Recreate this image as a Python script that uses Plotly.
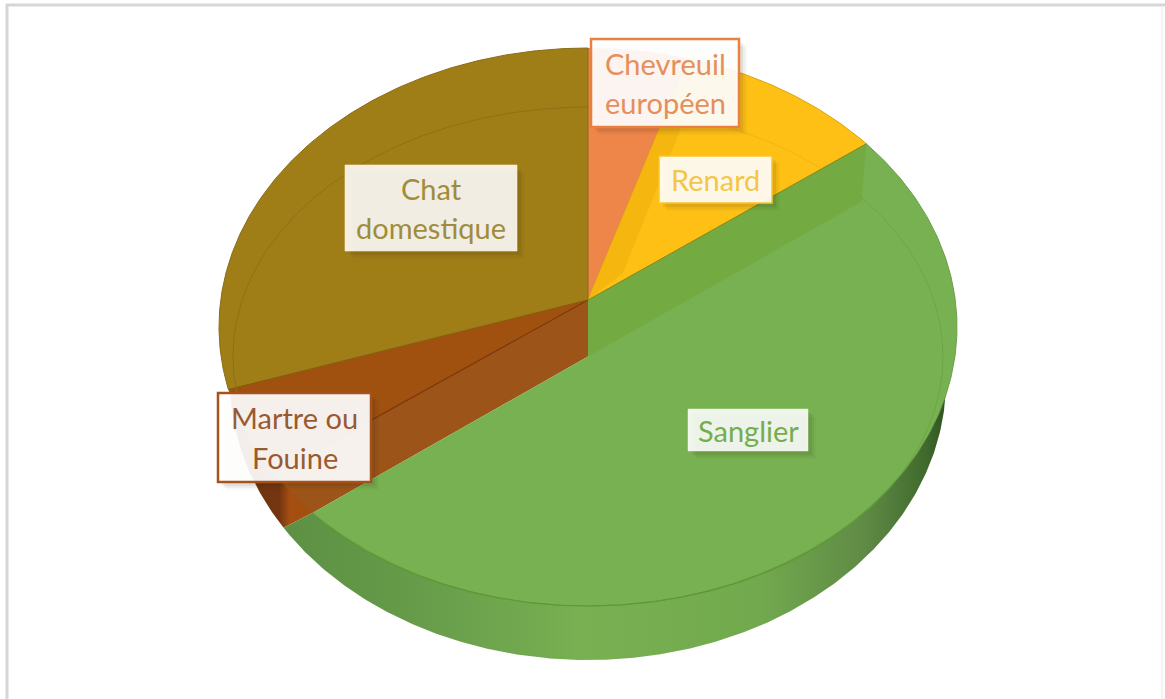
import numpy as np
import plotly.graph_objects as go

# ---- data (share of the pie, clockwise from 12 o'clock) ----
categories = ["Chevreuil européen", "Renard", "Sanglier", "Martre ou Fouine", "Chat domestique"]
values = [4.4, 9.2, 49.8, 8.0, 28.6]
colors = ["#ee8549", "#ffc015", "#78b151", "#a0500f", "#a07e17"]
text_colors = ["#e58f5c", "#f3c648", "#74ad4e", "#9a5a30", "#a08c3c"]
label_lines = [["Chevreuil", "européen"], ["Renard"], ["Sanglier"], ["Martre ou", "Fouine"], ["Chat", "domestique"]]

# ---- view geometry of the drawing (pixels) ----
W, H = 1165, 699
CX, TOP_CY, TOP_RX, TOP_RY = 588, 327, 369, 279
APEX_Y, FRONT_Y = 300, 356.5
BASE_CY, BASE_RX, BASE_RY = 381, 358, 279
IN_RX, IN_RY = 355, 249.5

boxes = [(591, 39, 739, 127), (659, 156, 772, 203), (688, 409, 808, 451), (218, 393, 371, 482), (345, 165, 517, 251)]
box_fill = ["rgba(255,255,255,0.92)", "rgba(255,255,255,0.9)", "rgba(255,255,255,0.88)", "rgba(255,255,255,0.92)", "rgba(255,255,255,0.88)"]
box_line = ["#e9803f", "#fbc42a", "rgba(255,255,255,0.4)", "#a5521c", "rgba(255,240,200,0.6)"]
box_w = [2.5, 1.5, 1, 2.5, 1]


def rim(t):
    t = np.radians(t)
    return CX + TOP_RX * np.sin(t), TOP_CY - TOP_RY * np.cos(t)


def base(t):
    t = np.radians(t)
    return CX + BASE_RX * np.sin(t), BASE_CY - BASE_RY * np.cos(t)


def inner(t):
    t = np.radians(t)
    return CX + IN_RX * np.sin(t), FRONT_Y - IN_RY * np.cos(t)


def sweep(f, a, b):
    ts = np.linspace(a, b, max(2, int(abs(b - a) * 2) + 1))
    x, y = f(ts)
    return list(x), list(y)


bounds = np.concatenate([[0], np.cumsum(values) / np.sum(values) * 360])
a = {c: (bounds[i], bounds[i + 1]) for i, c in enumerate(categories)}
t_sg0, t_sg1 = a["Sanglier"]
t_rn0, t_rn1 = a["Renard"]
t_mf0, t_mf1 = a["Martre ou Fouine"]
t_ch0, t_ch1 = a["Chat domestique"]
SHIFT = 10

fig = go.Figure()


def poly(x, y, color, name, line=None):
    fig.add_trace(go.Scatter(x=x, y=y, mode="lines", fill="toself", fillcolor=color, name=name,
                             line=dict(color=line or "rgba(0,0,0,0)", width=1 if line else 0),
                             hoverinfo="skip", showlegend=False))


def stroke(x, y, color, width=1):
    fig.add_trace(go.Scatter(x=x, y=y, mode="lines", line=dict(color=color, width=width),
                             hoverinfo="skip", showlegend=False))


# side walls
x, y = sweep(base, t_mf0 + SHIFT, 285)
rx_, ry_ = rim(t_mf0)
fig.add_trace(go.Scatter(x=x + [float(rx_)], y=y + [float(ry_)], mode="lines", fill="toself", name="Martre ou Fouine",
                         line=dict(width=0, color="rgba(0,0,0,0)"), hoverinfo="skip", showlegend=False,
                         fillgradient=dict(type="horizontal", colorscale=[[0, "#6b3210"], [0.6, "#743610"], [0.72, "#a44f10"], [1, "#a44f10"]])))
x, y = sweep(base, 80, t_sg1 + SHIFT)
rx_, ry_ = rim(t_sg1)
fig.add_trace(go.Scatter(x=x + [float(rx_)], y=y + [float(ry_)], mode="lines", fill="toself", name="Sanglier",
                         line=dict(width=0, color="rgba(0,0,0,0)"), hoverinfo="skip", showlegend=False,
                         fillgradient=dict(type="horizontal", colorscale=[[0, "#5d9044"], [0.18, "#659a49"], [0.45, "#78b052"], [0.72, "#72a94e"], [0.88, "#5f8a45"], [0.97, "#3f6a2c"], [1, "#2f5420"]])))

# top surfaces
EDGE = {"Chat domestique": "#8a6c14", "Chevreuil européen": None, "Renard": "#d9a20f"}
for cat, col in zip(categories, colors):
    if cat in ("Sanglier", "Martre ou Fouine"):
        continue
    x, y = sweep(rim, *a[cat])
    poly([CX] + x + [CX], [APEX_Y] + y + [APEX_Y], col, cat, line=EDGE[cat])

# Renard inner band
x, y = sweep(rim, t_rn0, t_rn0 + 3)
poly([CX] + x + [CX + 35, CX], [APEX_Y] + y + [APEX_Y - 27, APEX_Y], "#f4b60f", "Renard")
stroke(*sweep(inner, t_rn0 + 6, t_rn1 - 8), "rgba(215,160,10,0.35)")

# Martre
x, y = sweep(rim, t_mf0, t_mf1)
poly([CX] + x + [CX], [APEX_Y] + y + [APEX_Y], "#a0500f", "Martre ou Fouine")
x, y = sweep(rim, t_mf0, t_mf0 + SHIFT)
poly([CX] + x + [CX, CX], [FRONT_Y] + y + [APEX_Y, FRONT_Y], "#9c5418", "Martre ou Fouine")
x0, y0 = rim(t_mf0 + SHIFT)
stroke([CX, float(x0)], [APEX_Y, float(y0)], "#7d3a0c", 1.2)
stroke([CX, float(rim(t_mf1)[0])], [APEX_Y, float(rim(t_mf1)[1])], "#8a5a10", 1)

# Sanglier
x, y = sweep(rim, t_sg0, t_sg1)
poly([CX] + x + [CX, CX], [APEX_Y] + y + [FRONT_Y, APEX_Y], colors[2], "Sanglier")
xs, ys = rim(t_sg0)
poly([CX, float(xs), float(xs) - 5, CX, CX], [APEX_Y, float(ys), float(ys) + 58, FRONT_Y, APEX_Y], "#73aa42", "Sanglier")
stroke([CX, float(xs)], [APEX_Y, float(ys)], "#8a8a1c", 1)

# rim / inner outlines
stroke(*sweep(rim, t_sg0, t_sg1), "#6b9f48", 1)
stroke(*sweep(inner, t_sg1, 120), "#5c9a33", 1.2)
stroke(*sweep(inner, 120, 90), "rgba(92,154,51,0.45)", 1)
stroke(*sweep(inner, 90, t_sg0 + 1), "rgba(92,140,60,0.35)", 1)
stroke(*sweep(inner, t_mf1, t_ch1), "#8f7014", 1)

# frame: only the top and left edges show clearly, the right one is faint
shapes = [
    dict(type="line", xref="x", yref="y", x0=6, y0=5, x1=W, y1=5, line=dict(color="#d6d6d6", width=3), layer="below"),
    dict(type="line", xref="x", yref="y", x0=7, y0=4, x1=7, y1=H, line=dict(color="#d6d6d6", width=3), layer="below"),
    dict(type="line", xref="x", yref="y", x0=1162, y0=6, x1=1162, y1=H, line=dict(color="#f4f4f4", width=2), layer="below"),
]

# label boxes and soft shadows
for (x0, y0, x1, y1), f, l, w in zip(boxes, box_fill, box_line, box_w):
    for off, al in ((8, 0.03), (6, 0.05), (4, 0.07)):
        shapes.append(dict(type="rect", xref="x", yref="y", x0=x0 + off, y0=y0 + off, x1=x1 + off, y1=y1 + off,
                           line=dict(width=0), fillcolor=f"rgba(40,30,10,{al})", layer="above"))
    shapes.append(dict(type="rect", xref="x", yref="y", x0=x0, y0=y0, x1=x1, y1=y1,
                       line=dict(width=w, color=l), fillcolor=f, layer="above"))

annotations = []
for lines, (x0, y0, x1, y1), tc in zip(label_lines, boxes, text_colors):
    xm = (x0 + x1) / 2
    ym = (y0 + y1) / 2
    for i, s in enumerate(lines):
        annotations.append(dict(x=xm, y=ym + (i - (len(lines) - 1) / 2) * 39.5, xref="x", yref="y", text=s,
                                showarrow=False, font=dict(family="Lato", size=29, color=tc),
                                xanchor="center", yanchor="middle"))

fig.update_layout(width=W, height=H, margin=dict(l=0, r=0, t=0, b=0), paper_bgcolor="white", plot_bgcolor="white",
                  showlegend=False, shapes=shapes, annotations=annotations,
                  xaxis=dict(range=[0, W], visible=False, fixedrange=True),
                  yaxis=dict(range=[H, 0], visible=False, fixedrange=True))
fig.write_html("out.html", config=dict(displayModeBar=False),
               post_script="document.body.style.margin='0';document.body.style.overflow='hidden';")
